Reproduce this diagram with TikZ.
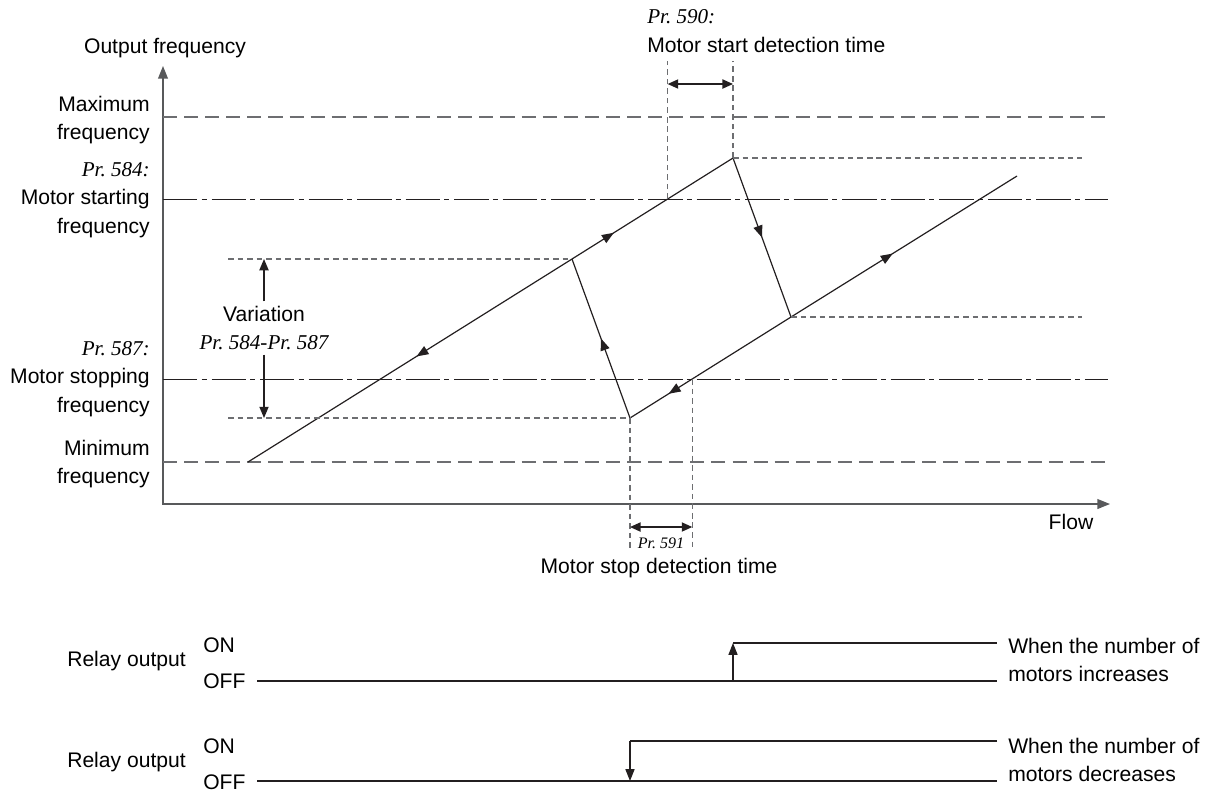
\documentclass[tikz,border=0pt]{standalone}
\usepackage{fontspec}
\setmainfont{Liberation Sans}
\newfontfamily\prfont{Liberation Serif}
\usetikzlibrary{arrows.meta,decorations.markings,calc}
\definecolor{Ink}{HTML}{231F20}
\definecolor{Axis}{HTML}{58595B}
\definecolor{Guide}{HTML}{6D6E71}
\newcommand{\prno}[1]{{\prfont\itshape Pr.\ #1}}

\tikzset{
  lbl/.style={font=\fontsize{15}{20.5}\selectfont, inner sep=0pt},
  axisline/.style={Axis, line width=1pt},
  curve/.style={Ink, line width=0.85pt},
  levelline/.style={Guide, line width=0.8pt, dash pattern=on 10pt off 5pt},
  setline/.style={Ink, line width=0.6pt, dash pattern=on 24.5pt off 3pt on 3.5pt off 3.5pt},
  guide/.style={Guide, line width=0.75pt, dash pattern=on 4pt off 2.8pt},
  midarrow/.style={postaction={decorate}, decoration={markings,
      mark=at position #1 with {\arrow{Triangle[length=8.5pt,width=6.5pt]}}}},
  dimarrow/.style={Ink, line width=1pt, {Triangle[length=7.5pt,width=6.5pt]}-{Triangle[length=7.5pt,width=6.5pt]}},
  relay/.style={Ink, line width=0.85pt},
}

\begin{document}
\begin{tikzpicture}[x=0.025cm,y=-0.025cm]
  \useasboundingbox (0,0) rectangle (1215,792);

  % axes
  \coordinate (ytop) at (163,66);
  \coordinate (xend) at (1110,504);
  \draw[axisline, {Triangle[length=9pt,width=7pt]}-{Triangle[length=9pt,width=7pt]}] (ytop) |- (xend);
  \node[lbl] (ylbl) at (165,48) {Output frequency};
  \node[lbl] (xlbl) at (1071,522) {Flow};

  % frequency levels
  \foreach \y/\s in {117/levelline, 199/setline, 379/setline, 462/levelline}
    \draw[\s] (163,\y) -- (1108,\y);
  \node[lbl, anchor=east, align=right] (fmax) at (150,120) {Maximum\\frequency};
  \node[lbl, anchor=east, align=right] (fstart) at (150,200) {\prno{584:}\\Motor starting\\frequency};
  \node[lbl, anchor=east, align=right] (fstop) at (150,379) {\prno{587:}\\Motor stopping\\frequency};
  \node[lbl, anchor=east, align=right] (fmin) at (150,464) {Minimum\\frequency};

  % hysteresis loop
  \coordinate (lo) at (248,462);
  \coordinate (up) at (572,259);
  \coordinate (pk) at (733,158);
  \coordinate (dn) at (791,317);
  \coordinate (bt) at (630,418);
  \coordinate (hi) at (1017,176);
  \coordinate (st) at ($(up)!0.594!(pk)$);
  \coordinate (sp) at ($(bt)!0.161!(hi)$);
  \draw[curve, midarrow=0.48] (up) -- (lo);
  \draw[curve, midarrow=0.26] (up) -- (pk);
  \draw[curve, midarrow=0.5] (pk) -- (dn);
  \draw[curve, midarrow=0.45] (dn) -- (hi);
  \draw[curve, midarrow=0.76] (dn) -- (bt);
  \draw[curve, midarrow=0.5] (bt) -- (up);

  % guides
  \draw[guide] (228,259) -- (up);
  \draw[guide] (228,418) -- (bt);
  \draw[guide] (pk) -- (1082,158);
  \draw[guide] (dn) -- (1082,317);
  \draw[guide] (st) -- (st |- 0,61);
  \draw[guide] (pk) -- (pk |- 0,61);
  \draw[guide] (bt) -- (bt |- 0,550);
  \draw[guide] (sp) -- (sp |- 0,550);

  % variation
  \node[lbl, align=center, inner sep=3pt] (var) at (264,328) {Variation\\\prno{584-Pr.\ 587}};
  \draw[Ink, line width=1pt, -{Triangle[length=8pt,width=6.5pt]}] (var) -- (var |- up);
  \draw[Ink, line width=1pt, -{Triangle[length=8pt,width=6.5pt]}] (var) -- (var |- bt);

  % detection times
  \draw[dimarrow] (st |- 0,84) -- (pk |- 0,84);
  \node[lbl, anchor=west, align=left] (tstart) at (647,31) {\prno{590:}\\Motor start detection time};
  \draw[dimarrow] (bt |- 0,527) -- (sp |- 0,527);
  \node[font=\fontsize{11.4}{13}\selectfont, inner sep=0pt] (p591) at (661,543) {\prno{591}};
  \node[lbl] (tstop) at (659,568) {Motor stop detection time};

  % relay outputs
  \node[lbl, anchor=east] (rel1) at (186,661) {Relay output};
  \node[lbl, anchor=west] (on1) at (203,645) {ON};
  \node[lbl, anchor=west] (off1) at (203,681) {OFF};
  \node[lbl, anchor=west, align=left] (inc) at (1008,660) {When the number of\\motors increases};
  \draw[relay] (257,681) -- (997,681);
  \draw[relay, -{Triangle[length=8.5pt,width=6.5pt]}] (pk |- 0,681) -- (pk |- 0,643);
  \draw[relay] (pk |- 0,643) -- (997,643);

  \node[lbl, anchor=east] (rel2) at (186,762) {Relay output};
  \node[lbl, anchor=west] (on2) at (203,746) {ON};
  \node[lbl, anchor=west] (off2) at (203,782) {OFF};
  \node[lbl, anchor=west, align=left] (dec) at (1008,760) {When the number of\\motors decreases};
  \draw[relay] (257,781) -- (997,781);
  \draw[relay] (997,741) -- (bt |- 0,741);
  \draw[relay, -{Triangle[length=8.5pt,width=6.5pt]}] (bt |- 0,741) -- (bt |- 0,781);
\end{tikzpicture}
\end{document}
